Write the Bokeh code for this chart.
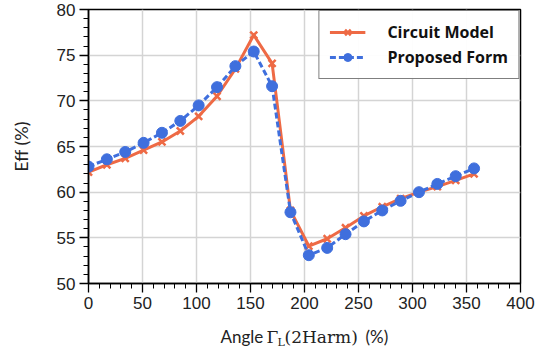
from bokeh.plotting import figure
from bokeh.layouts import column
from bokeh.models import Range1d, Label, Legend, LegendItem, FixedTicker, ColumnDataSource
from bokeh.embed import file_html
from bokeh.resources import INLINE

angle = [0, 17, 34, 51, 68, 85, 102, 119, 136, 153, 170, 187, 204, 221, 238, 255, 272, 289, 306, 323, 340, 357]
circuit_model = [62.2, 63.0, 63.7, 64.6, 65.5, 66.7, 68.3, 70.5, 73.5, 77.2, 74.1, 58.0, 54.1, 54.9, 56.1, 57.4, 58.4, 59.3, 60.0, 60.6, 61.3, 62.0]
proposed_form = [62.8, 63.6, 64.4, 65.4, 66.5, 67.8, 69.5, 71.5, 73.8, 75.4, 71.6, 57.8, 53.1, 53.9, 55.4, 56.8, 58.0, 59.05, 60.0, 60.9, 61.75, 62.6]
x_ticks = [0, 50, 100, 150, 200, 250, 300, 350, 400]
y_ticks = [50, 55, 60, 65, 70, 75, 80]
series_names = ["Circuit Model", "Proposed Form"]

ORANGE = "#EE6A45"
BLUE = "#3F6FDD"
TXT = "#222222"

src = ColumnDataSource(dict(x=angle, cm=circuit_model, pf=proposed_form))

p = figure(width=552, height=318, output_backend="svg", toolbar_location=None,
           x_range=Range1d(0, 400), y_range=Range1d(50, 80),
           min_border_left=88, min_border_right=32, min_border_top=9, min_border_bottom=35)
p.background_fill_color = "white"
p.border_fill_color = "white"
p.outline_line_color = "black"
p.outline_line_width = 1.5

for ax in (p.xaxis[0], p.yaxis[0]):
    ax.axis_line_color = "black"
    ax.axis_line_width = 1.5
    ax.major_tick_line_color = "black"
    ax.minor_tick_line_color = "black"
    ax.major_tick_line_width = 1.3
    ax.minor_tick_line_width = 1.0
    ax.major_tick_in = 0
    ax.major_tick_out = 9
    ax.minor_tick_in = 0
    ax.minor_tick_out = 5
    ax.major_label_text_font = "Liberation Sans"
    ax.major_label_text_font_size = "17px"
    ax.major_label_text_color = TXT

p.xaxis.ticker = FixedTicker(ticks=x_ticks, minor_ticks=list(range(0, 401, 10)))
p.yaxis.ticker = FixedTicker(ticks=y_ticks, minor_ticks=list(range(50, 81, 1)))
p.xaxis.major_label_standoff = 4
p.yaxis.major_label_standoff = 4

p.yaxis.axis_label = "Eff (%)"
p.yaxis.axis_label_text_font = "Lato"
p.yaxis.axis_label_text_font_size = "18px"
p.yaxis.axis_label_text_font_style = "normal"
p.yaxis.axis_label_text_color = TXT
p.yaxis.axis_label_standoff = 22

p.grid.grid_line_color = "#d4d4d4"
p.grid.grid_line_width = 1.5

r1 = p.line("x", "cm", source=src, color=ORANGE, line_width=3)
m1 = p.scatter("x", "cm", source=src, marker="x", size=10, line_color=ORANGE, line_width=2.5)
r2 = p.line("x", "pf", source=src, color=BLUE, line_width=3, line_dash="6 3")
m2 = p.scatter("x", "pf", source=src, marker="circle", size=11, fill_color=BLUE, line_color=BLUE)

legend = Legend(items=[LegendItem(label=series_names[0], renderers=[r1, m1]),
                       LegendItem(label=series_names[1], renderers=[r2, m2])],
                location="top_right")
legend.margin = 1
legend.padding = 10
legend.spacing = 3
legend.border_line_color = "black"
legend.border_line_width = 1.5
legend.label_text_font = "Open Sans"
legend.label_text_font_style = "bold"
legend.label_text_font_size = "16px"
legend.label_text_color = "#111111"
legend.glyph_width = 36
legend.label_standoff = 22
legend.label_height = 20
legend.glyph_height = 20
p.add_layout(legend)

# strip below the chart for the x-axis title (mixed sans/serif with subscript);
# its frame spans the same pixels as the chart's frame, ranges are in canvas pixels
p2 = figure(width=552, height=37, output_backend="svg", toolbar_location=None,
            x_range=Range1d(88, 520), y_range=Range1d(355, 318),
            x_axis_type=None, y_axis_type=None,
            min_border_left=88, min_border_right=32, min_border_top=0, min_border_bottom=0)
p2.outline_line_color = None
p2.grid.visible = False
p2.background_fill_color = "white"
p2.border_fill_color = "white"

parts = [
    ("Angle", 220, 336, "Lato", "17px"),
    ("Γ", 266, 336, "DejaVu Serif", "17px"),
    ("L", 277, 342, "DejaVu Serif", "11px"),
    ("(2Harm)", 284, 336, "DejaVu Serif", "17px"),
    ("(%)", 365, 336, "Lato", "17px"),
]
for txt, px, py, font, size in parts:
    p2.add_layout(Label(x=px, y=py, text=txt, text_font=font, text_font_size=size,
                        text_align="left", text_baseline="middle", text_color=TXT))

layout = column(p, p2, spacing=0)
open("out.html", "w").write(file_html(layout, INLINE))
